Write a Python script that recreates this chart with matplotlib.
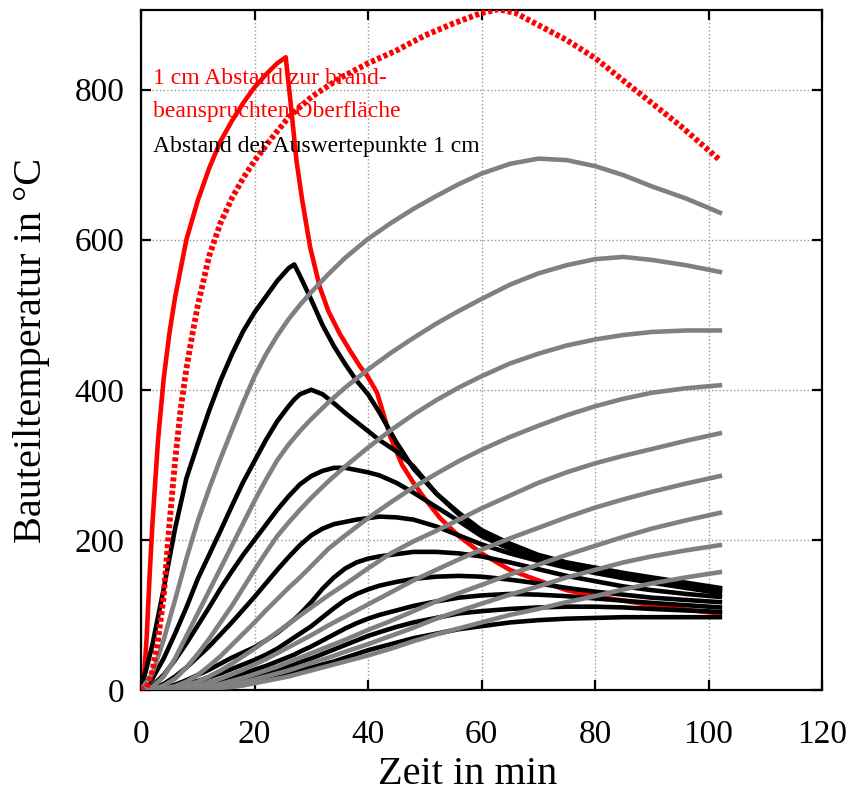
import matplotlib
matplotlib.use("Agg")
import matplotlib.pyplot as plt

plt.rcParams['font.family'] = ['Liberation Serif', 'DejaVu Serif']

# Zeit in min (gemeinsame Stuetzstellen je Kurvenschar)
t_black = [0, 2, 4, 6, 8, 10, 12, 14, 16, 18, 20, 22, 24, 26, 27, 28, 30, 32, 34, 36,
           38, 40, 42, 45, 48, 52, 56, 60, 65, 70, 75, 80, 85, 90, 96, 102]
t_gray = [0, 2, 4, 6, 8, 10, 12, 14, 16, 18, 20, 22, 24, 26, 28, 30, 33, 36, 40, 44,
          48, 52, 56, 60, 65, 70, 75, 80, 85, 90, 96, 102]

# rote Kurve (1 cm, durchgezogen)
t_red = [0, 0.5, 1, 1.5, 2, 3, 4, 5, 6, 8, 10, 12, 14, 16, 18, 20, 22, 24, 25.5, 26.3,
         27.4, 28.4, 29.8, 31.5, 33, 35, 37, 38.6, 40, 41.6, 43.9, 46, 48, 50, 52.7, 56,
         60, 65, 70, 75, 80, 85, 90, 96, 102]
T_red = [0, 15, 70, 150, 220, 333, 415, 475, 523, 600, 652, 695, 731, 758, 782, 803,
         820, 835, 843, 787, 705, 653, 590, 537, 505, 475, 450, 431, 417, 396, 338, 300,
         276, 255, 229, 205, 182, 160, 146, 133, 125, 119, 113, 107, 102]

# rote Kurve (1 cm, punktiert)
t_red_dot = [0, 1, 2, 3, 4, 5, 6, 7, 8, 9, 10, 12, 14, 16, 18, 20, 23, 26, 30, 35, 40,
             45, 50, 55, 60, 63, 66, 70, 75, 80, 85, 90, 95, 102]
T_red_dot = [0, 3, 25, 67, 125, 220, 305, 375, 428, 472, 512, 578, 622, 655, 682, 705,
             735, 763, 790, 815, 835, 852, 872, 888, 902, 907, 902, 886, 866, 842, 812,
             782, 752, 706]

# schwarze Kurven (2 ... 10 cm)
black_2cm = [0, 60, 135, 215, 282, 328, 372, 412, 447, 478, 503, 524, 545, 562, 567, 552,
             520, 486, 458, 434, 412, 394, 370, 330, 295, 262, 236, 213, 195, 180, 170,
             163, 156, 150, 143, 136]
black_3cm = [0, 15, 42, 75, 110, 148, 180, 212, 245, 277, 305, 333, 358, 378, 387, 394,
             400, 394, 382, 369, 357, 345, 333, 318, 298, 262, 234, 208, 190, 177, 168,
             161, 154, 148, 141, 134]
black_4cm = [0, 6, 20, 40, 62, 86, 110, 135, 158, 180, 200, 220, 240, 258, 266, 274, 285,
             292, 296, 296, 293, 290, 286, 276, 263, 244, 225, 205, 188, 176, 166, 158,
             152, 146, 139, 132]
black_5cm = [0, 2, 8, 18, 30, 44, 58, 74, 90, 107, 124, 142, 160, 177, 185, 193, 206, 215,
             221, 224, 227, 229, 231, 230, 227, 218, 206, 194, 182, 172, 163, 156, 149,
             143, 136, 129]
black_6cm = [0, 0, 3, 7, 13, 20, 27, 35, 43, 50, 57, 66, 76, 88, 94, 101, 117, 135, 150,
             162, 170, 175, 178, 181, 184, 184, 182, 178, 170, 161, 152, 145, 138, 133,
             128, 124]
black_7cm = [0, 0, 2, 4, 8, 12, 17, 22, 28, 34, 40, 47, 55, 65, 70, 75, 85, 97, 109, 120,
             128, 134, 139, 144, 148, 151, 152, 151, 147, 142, 136, 131, 127, 123, 120,
             117]
black_8cm = [0, 0, 1, 2, 4, 7, 10, 14, 18, 22, 27, 32, 38, 44, 47, 51, 58, 66, 74, 82, 89,
             95, 100, 106, 112, 118, 123, 126, 128, 127, 125, 122, 119, 116, 113, 110]
black_9cm = [0, 0, 0, 1, 2, 4, 6, 9, 12, 15, 19, 23, 27, 32, 34, 37, 42, 48, 54, 60, 66,
             72, 77, 84, 90, 96, 102, 105, 108, 110, 111, 111, 110, 108, 106, 104]
black_10cm = [0, 0, 0, 0, 1, 2, 4, 6, 8, 10, 13, 16, 19, 22, 24, 26, 30, 34, 38, 43, 48,
              53, 57, 63, 69, 75, 81, 85, 90, 93, 95, 96, 97, 97, 97, 97]

# graue Kurven (2 ... 10 cm)
gray_2cm = [0, 22, 67, 120, 175, 225, 268, 308, 346, 383, 418, 447, 472, 494, 513, 530,
            554, 576, 601, 622, 641, 658, 674, 688, 701, 708, 706, 698, 686, 671, 655, 636]
gray_3cm = [0, 4, 18, 42, 72, 102, 132, 162, 192, 222, 252, 280, 306, 327, 345, 361, 383,
            403, 427, 449, 469, 488, 505, 521, 540, 555, 566, 574, 577, 573, 566, 557]
gray_4cm = [0, 1, 6, 15, 30, 48, 68, 90, 112, 136, 160, 183, 205, 223, 240, 256, 278,
            298, 323, 346, 367, 386, 403, 418, 435, 448, 459, 467, 473, 477, 479, 479]
gray_5cm = [0, 0, 2, 5, 11, 20, 32, 45, 60, 75, 90, 106, 121, 136, 150, 165, 188, 206,
            229, 250, 270, 288, 305, 320, 337, 352, 366, 378, 388, 396, 402, 406]
gray_6cm = [0, 0, 1, 3, 6, 11, 18, 26, 35, 45, 55, 66, 77, 88, 99, 110, 126, 141, 162,
            182, 198, 212, 227, 242, 259, 276, 290, 302, 312, 321, 332, 342]
gray_7cm = [0, 0, 0, 1, 3, 6, 10, 15, 21, 27, 34, 41, 49, 57, 65, 73, 86, 98, 114, 130,
            146, 160, 174, 187, 202, 216, 230, 243, 254, 264, 275, 285]
gray_8cm = [0, 0, 0, 0, 1, 3, 5, 8, 12, 16, 21, 26, 31, 37, 43, 49, 58, 67, 80, 92, 105,
            118, 129, 140, 154, 167, 180, 192, 204, 215, 226, 236]
gray_9cm = [0, 0, 0, 0, 0, 1, 3, 5, 7, 10, 14, 18, 22, 26, 31, 36, 43, 51, 61, 72, 83, 95,
            105, 115, 127, 138, 150, 160, 170, 178, 186, 193]
gray_10cm = [0, 0, 0, 0, 0, 0, 1, 3, 4, 6, 9, 12, 15, 18, 22, 26, 32, 38, 46, 55, 65, 74,
             82, 90, 100, 108, 117, 125, 134, 142, 150, 157]

black_series = [black_2cm, black_3cm, black_4cm, black_5cm, black_6cm,
                black_7cm, black_8cm, black_9cm, black_10cm]
gray_series = [gray_2cm, gray_3cm, gray_4cm, gray_5cm, gray_6cm,
               gray_7cm, gray_8cm, gray_9cm, gray_10cm]

fig = plt.figure(figsize=(8.52, 7.94), dpi=100)
ax = fig.add_axes([0.1655, 0.131, 0.7993, 0.8564])

lw = 3.3
ax.plot(t_red, T_red, color='#ff0000', lw=lw, zorder=2)
for T in black_series:
    ax.plot(t_black, T, color='black', lw=lw, zorder=3)
for T in gray_series:
    ax.plot(t_gray, T, color='#808080', lw=lw, zorder=4)
ax.plot(t_red_dot, T_red_dot, color='#ff0000', lw=4.2,
        linestyle=(0, (0.7, 0.45)), zorder=5)

ax.set_xlim(0, 120)
ax.set_ylim(0, 906)
ax.set_xticks(range(0, 121, 20))
ax.set_yticks(range(0, 801, 200))
ax.grid(True, color='#999999', linestyle=':', linewidth=1.0)
ax.set_axisbelow(True)

for s in ax.spines.values():
    s.set_linewidth(1.6)
ax.tick_params(direction='in', length=7, width=1.6, top=True, right=True,
               labelsize=24)
ax.tick_params(axis='x', pad=21)
ax.tick_params(axis='y', pad=12)

ax.set_xlabel('Zeit in min', fontsize=29)
ax.set_ylabel('Bauteiltemperatur in °C', fontsize=29)
ax.xaxis.set_label_coords(0.48, -0.097)
ax.yaxis.set_label_coords(-0.133, 0.5)

ax.text(2.1, 807, '1 cm Abstand zur brand-', color='#ff0000', fontsize=17,
        va='baseline', zorder=6)
ax.text(2.1, 763, 'beanspruchten Oberfläche', color='#ff0000', fontsize=17,
        va='baseline', zorder=6)
ax.text(2.1, 717, 'Abstand der Auswertepunkte 1 cm', color='black', fontsize=17,
        va='baseline', zorder=6)

fig.savefig('out.png', dpi=100)
